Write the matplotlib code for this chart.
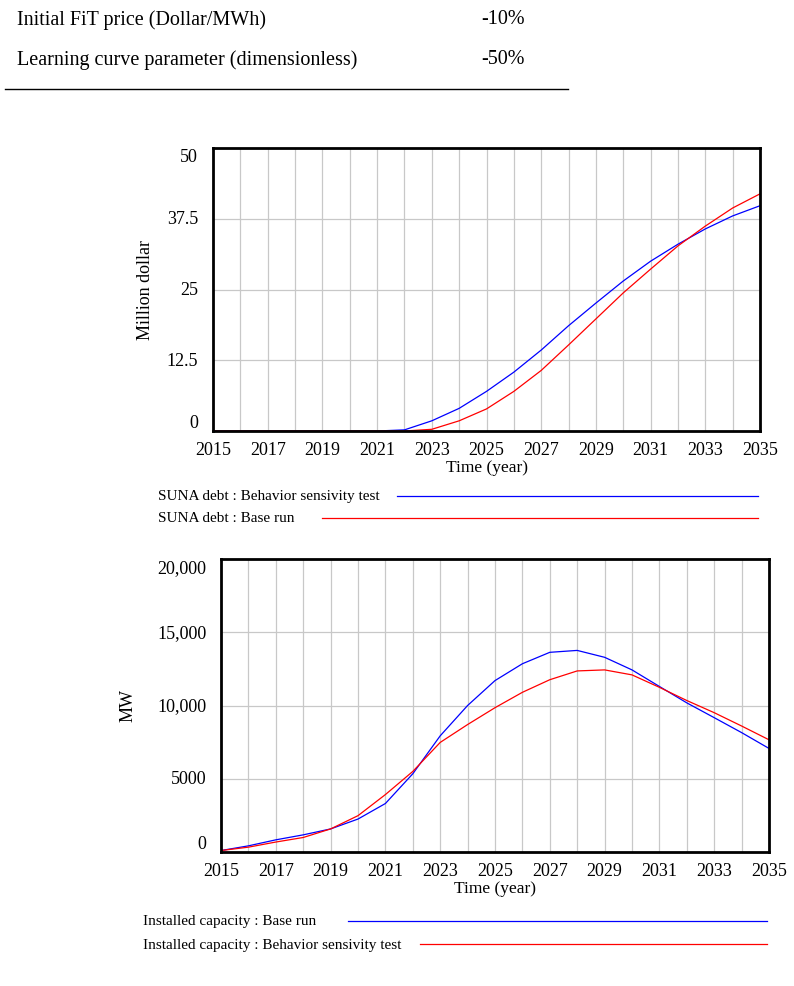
import matplotlib
matplotlib.use("Agg")
import matplotlib.pyplot as plt
from matplotlib.lines import Line2D

plt.rcParams['font.family'] = ['Liberation Serif', 'DejaVu Serif']

# header table
param_names = ["Initial FiT price (Dollar/MWh)", "Learning curve parameter (dimensionless)"]
param_changes = ["-10%", "-50%"]

# SUNA debt (million dollar)
years = list(range(2015, 2036))
debt_test = [0, 0, 0, 0, 0, 0, 0, 0.2, 1.8, 4.0, 7.0, 10.4, 14.3, 18.6, 22.6,
             26.5, 30.0, 33.0, 35.7, 38.0, 39.8]
debt_base = [0, 0, 0, 0, 0, 0, 0, 0, 0.3, 1.8, 3.9, 7.0, 10.7, 15.2, 19.8,
             24.4, 28.6, 32.7, 36.2, 39.4, 41.9]

# Installed capacity (MW)
cap_base = [100, 420, 830, 1170, 1575, 2250, 3310, 5340, 7930, 10000, 11700,
            12850, 13630, 13760, 13290, 12430, 11300, 10180, 9170, 8150, 7070]
cap_test = [100, 330, 680, 990, 1575, 2480, 3920, 5500, 7480, 8700, 9850,
            10900, 11760, 12360, 12430, 12090, 11240, 10340, 9510, 8600, 7660]

debt_ticks = [0, 12.5, 25, 37.5, 50]
debt_labels = ["0", "12.5", "25", "37.5", "50"]
cap_ticks = [0, 5000, 10000, 15000, 20000]
cap_labels = ["0", "5000", "10,000", "15,000", "20,000"]
year_labels = list(range(2015, 2036, 2))

W, H = 794, 987
fig = plt.figure(figsize=(W / 100, H / 100), dpi=100)


def px(x, y):
    return x / W, 1 - y / H


def axes_at(x0, y0, x1, y1):
    return fig.add_axes([x0 / W, 1 - y1 / H, (x1 - x0) / W, (y1 - y0) / H])


# table at the top
for i, (name, chg) in enumerate(zip(param_names, param_changes)):
    yy = 20 + i * 40
    fig.text(*px(17, yy), name, fontsize=14.5, va='center', ha='left')
    fig.text(*px(481, yy), chg, fontsize=14.5, va='center', ha='left')
fig.add_artist(Line2D([5 / W, 568 / W], [1 - 90 / H, 1 - 90 / H], color='black', lw=1.0))


def style_axes(ax, ticks, labels, ymax, ylabel, ylab_x):
    ax.set_xlim(2015, 2035)
    ax.set_ylim(0, ymax)
    ax.set_xticks(range(2015, 2036), minor=True)
    ax.set_xticks(year_labels)
    ax.set_xticklabels([str(y) for y in year_labels], fontsize=13)
    ax.set_yticks(ticks)
    ax.set_yticklabels([])
    ax.grid(True, which='both', axis='x', color='#c8c8c8', lw=0.9)
    ax.grid(True, axis='y', color='#c8c8c8', lw=0.9)
    ax.tick_params(which='both', length=0, pad=7)
    for s in ax.spines.values():
        s.set_linewidth(2.0)
        s.set_color('black')
    trans = ax.get_yaxis_transform()
    for i, (t, lab) in enumerate(zip(ticks, labels)):
        va = 'bottom' if i == 0 else ('top' if i == len(ticks) - 1 else 'center')
        ax.text(-0.027, t, lab, transform=trans, ha='right', va=va, fontsize=13)
    ax.set_xlabel("Time (year)", fontsize=12.5, labelpad=1)
    fig.text(*px(ylab_x[0], ylab_x[1]), ylabel, rotation=90, fontsize=13,
             ha='center', va='center')


# top chart
ax1 = axes_at(213, 149, 760, 432)
ax1.plot(years, debt_test, color='#0000ff', lw=0.9)
ax1.plot(years, debt_base, color='#ff0000', lw=0.9)
style_axes(ax1, debt_ticks, debt_labels, 50, "Million dollar", (145, 290))

fig.text(*px(158, 497), "SUNA debt : Behavior sensivity test", fontsize=11, va='center')
fig.add_artist(Line2D([397 / W, 758 / W], [1 - 497 / H] * 2, color='#0000ff', lw=0.9))
fig.text(*px(158, 519), "SUNA debt : Base run", fontsize=11, va='center')
fig.add_artist(Line2D([322 / W, 758 / W], [1 - 519 / H] * 2, color='#ff0000', lw=0.9))

# bottom chart
ax2 = axes_at(221, 560, 769, 853)
ax2.plot(years, cap_base, color='#0000ff', lw=0.9)
ax2.plot(years, cap_test, color='#ff0000', lw=0.9)
style_axes(ax2, cap_ticks, cap_labels, 20000, "MW", (128, 706))

fig.text(*px(143, 922), "Installed capacity : Base run", fontsize=11, va='center')
fig.add_artist(Line2D([348 / W, 767 / W], [1 - 922 / H] * 2, color='#0000ff', lw=0.9))
fig.text(*px(143, 945), "Installed capacity : Behavior sensivity test", fontsize=11, va='center')
fig.add_artist(Line2D([420 / W, 767 / W], [1 - 945 / H] * 2, color='#ff0000', lw=0.9))

fig.savefig("out.png", dpi=100)
